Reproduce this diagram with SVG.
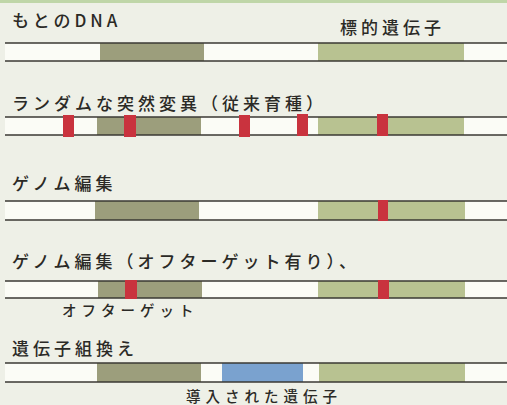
<svg xmlns="http://www.w3.org/2000/svg" width="507" height="405" viewBox="0 0 507 405">
<style>
.t{font-family:"Noto Sans CJK JP","Noto Sans",sans-serif;fill:#2b2a26;font-size:17px;letter-spacing:4px;font-weight:500}
.s{font-size:14.5px;letter-spacing:5px}
.band{fill:#fbfcf6}
.ln{stroke:#3a3833;stroke-width:1.6}
.dk{fill:#9c9e7c}
.lt{fill:#b8c291}
.rd{fill:#c9333e}
.bl{fill:#7aa2cf}
</style>
<rect width="507" height="405" fill="#eef0e7"/>
<rect width="507" height="3" fill="#bfd6a8"/>
<g id="row1">
<rect class="band" x="5" y="43" width="502" height="18"/>
<rect class="dk" x="100" y="43" width="104" height="18"/>
<rect class="lt" x="318" y="43" width="146" height="18"/>
<line class="ln" x1="5" y1="43" x2="507" y2="43"/>
<line class="ln" x1="5" y1="61" x2="507" y2="61"/>
<text class="t" x="12" y="27">もとのDNA</text>
<text class="t" x="340" y="34">標的遺伝子</text>
</g>
<g id="row2">
<rect class="band" x="5" y="117" width="502" height="18"/>
<rect class="dk" x="97" y="117" width="104" height="18"/>
<rect class="lt" x="318" y="117" width="146" height="18"/>
<line class="ln" x1="5" y1="117" x2="507" y2="117"/>
<line class="ln" x1="5" y1="135" x2="507" y2="135"/>
<rect class="rd" x="63" y="115" width="11" height="22"/>
<rect class="rd" x="124" y="115" width="12" height="22"/>
<rect class="rd" x="239" y="115" width="11" height="22"/>
<rect class="rd" x="297" y="114" width="11" height="22"/>
<rect class="rd" x="377" y="114" width="11" height="22"/>
<text class="t" x="12" y="110">ランダムな突然変異（従来育種）</text>
</g>
<g id="row3">
<rect class="band" x="5" y="201" width="502" height="19"/>
<rect class="dk" x="95" y="201" width="104" height="19"/>
<rect class="lt" x="318" y="201" width="147" height="19"/>
<line class="ln" x1="5" y1="201" x2="507" y2="201"/>
<line class="ln" x1="5" y1="220" x2="507" y2="220"/>
<rect class="rd" x="378" y="200" width="10" height="21"/>
<text class="t" x="12" y="190">ゲノム編集</text>
</g>
<g id="row4">
<rect class="band" x="5" y="281" width="502" height="17"/>
<rect class="dk" x="98" y="281" width="104" height="17"/>
<rect class="lt" x="318" y="281" width="147" height="17"/>
<line class="ln" x1="5" y1="281" x2="507" y2="281"/>
<line class="ln" x1="5" y1="298" x2="507" y2="298"/>
<rect class="rd" x="125" y="280" width="12" height="19"/>
<rect class="rd" x="378" y="280" width="11" height="19"/>
<text class="t" x="12" y="268">ゲノム編集（オフターゲット有り）、</text>
<text class="t s" x="62" y="316">オフターゲット</text>
</g>
<g id="row5">
<rect class="band" x="5" y="363" width="502" height="19"/>
<rect class="dk" x="97" y="363" width="104" height="19"/>
<rect class="bl" x="222" y="363" width="81" height="19"/>
<rect class="lt" x="319" y="363" width="146" height="19"/>
<line class="ln" x1="5" y1="363" x2="507" y2="363"/>
<line class="ln" x1="5" y1="382" x2="507" y2="382"/>
<text class="t" x="12" y="355">遺伝子組換え</text>
<text class="t s" x="186" y="401.5">導入された遺伝子</text>
</g>
<g id="connectors"/>
</svg>
